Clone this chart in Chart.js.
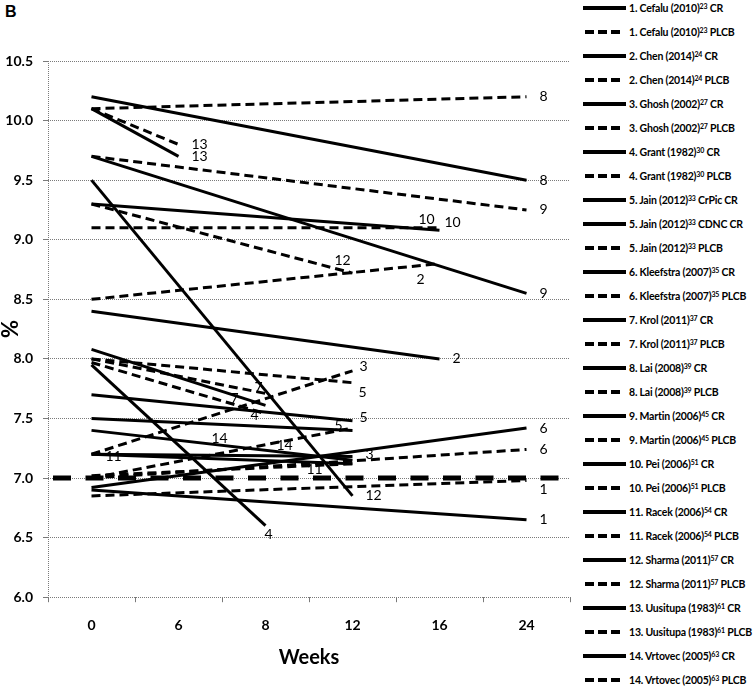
<!DOCTYPE html>
<html>
<head>
<meta charset="utf-8">
<script src="https://cdn.jsdelivr.net/npm/chart.js@4.4.1/dist/chart.umd.min.js"></script>
<style>
  body { margin: 0; background: #fff; width: 755px; height: 686px; overflow: hidden; position: relative; }
  #wrap { position: absolute; left: 0; top: 0; width: 578px; height: 686px; }
  #panel { position: absolute; left: 5px; top: 4px; font: bold 16px/16px 'Liberation Sans', Arial, sans-serif; }
  .row { position: absolute; left: 583px; height: 16px; display: flex; align-items: center; white-space: nowrap;
         font: bold 10.5px Lato, sans-serif; letter-spacing: -0.2px; color: #000; }
  .row svg { margin-right: 3px; flex: none; }
  .row sup { font-size: 7px; line-height: 0; vertical-align: 3px; }
</style>
</head>
<body>
<div id="panel">B</div>
<div id="wrap"><canvas id="myChart"></canvas></div>
<div id="legend"></div>
<script>
// semanas (eje x)
const weeks = ['0', '6', '8', '12', '16', '24'];

// HbA1c (%) por estudio y brazo, null = sin medición en esa semana
const cefaluCR      = [6.90, null, null, null, null, 6.65];
const cefaluPLCB    = [6.85, null, null, null, null, 6.98];
const chenCR        = [8.40, null, null, null, 8.00, null];
const chenPLCB      = [8.50, null, null, null, 8.80, null];
const ghoshCR       = [7.20, null, null, 7.18, null, null];
const ghoshPLCB     = [7.20, null, null, 7.90, null, null];
const grantCR       = [7.95, null, 6.60, null, null, null];
const grantPLCB     = [7.97, null, 7.54, null, null, null];
const jainCrPicCR   = [7.70, null, null, 7.48, null, null];
const jainCdncCR    = [7.50, null, null, 7.40, null, null];
const jainPLCB      = [8.00, null, null, 7.80, null, null];
const kleefstraCR   = [6.92, null, null, null, null, 7.42];
const kleefstraPLCB = [7.00, null, null, null, null, 7.24];
const krolCR        = [8.08, null, 7.61, null, null, null];
const krolPLCB      = [8.00, null, 7.71, null, null, null];
const laiCR         = [10.20, null, null, null, null, 9.50];
const laiPLCB       = [10.10, null, null, null, null, 10.20];
const martinCR      = [9.70, null, null, null, null, 8.55];
const martinPLCB    = [9.70, null, null, null, null, 9.25];
const peiCR         = [9.30, null, null, null, 9.08, null];
const peiPLCB       = [9.10, null, null, null, 9.10, null];
const racekCR       = [7.20, null, null, 7.12, null, null];
const racekPLCB     = [7.02, null, null, 7.12, null, null];
const sharmaCR      = [9.50, null, null, 6.85, null, null];
const sharmaPLCB    = [9.30, null, null, 8.72, null, null];
const uusitupaCR    = [10.10, 9.70, null, null, null, null];
const uusitupaPLCB  = [10.10, 9.80, null, null, null, null];
const vrtovecCR     = [7.40, null, null, 7.15, null, null];
const vrtovecPLCB   = [7.00, null, null, 7.42, null, null];

// línea objetivo 7%
const targetLine = [7.0, 7.0];

// estudio: número, autor, año, referencia, brazo, datos
const series = [
  [1, 'Cefalu', 2010, 23, 'CR', cefaluCR],
  [1, 'Cefalu', 2010, 23, 'PLCB', cefaluPLCB],
  [2, 'Chen', 2014, 24, 'CR', chenCR],
  [2, 'Chen', 2014, 24, 'PLCB', chenPLCB],
  [3, 'Ghosh', 2002, 27, 'CR', ghoshCR],
  [3, 'Ghosh', 2002, 27, 'PLCB', ghoshPLCB],
  [4, 'Grant', 1982, 30, 'CR', grantCR],
  [4, 'Grant', 1982, 30, 'PLCB', grantPLCB],
  [5, 'Jain', 2012, 33, 'CrPic CR', jainCrPicCR],
  [5, 'Jain', 2012, 33, 'CDNC CR', jainCdncCR],
  [5, 'Jain', 2012, 33, 'PLCB', jainPLCB],
  [6, 'Kleefstra', 2007, 35, 'CR', kleefstraCR],
  [6, 'Kleefstra', 2007, 35, 'PLCB', kleefstraPLCB],
  [7, 'Krol', 2011, 37, 'CR', krolCR],
  [7, 'Krol', 2011, 37, 'PLCB', krolPLCB],
  [8, 'Lai', 2008, 39, 'CR', laiCR],
  [8, 'Lai', 2008, 39, 'PLCB', laiPLCB],
  [9, 'Martin', 2006, 45, 'CR', martinCR],
  [9, 'Martin', 2006, 45, 'PLCB', martinPLCB],
  [10, 'Pei', 2006, 51, 'CR', peiCR],
  [10, 'Pei', 2006, 51, 'PLCB', peiPLCB],
  [11, 'Racek', 2006, 54, 'CR', racekCR],
  [11, 'Racek', 2006, 54, 'PLCB', racekPLCB],
  [12, 'Sharma', 2011, 57, 'CR', sharmaCR],
  [12, 'Sharma', 2011, 57, 'PLCB', sharmaPLCB],
  [13, 'Uusitupa', 1983, 61, 'CR', uusitupaCR],
  [13, 'Uusitupa', 1983, 61, 'PLCB', uusitupaPLCB],
  [14, 'Vrtovec', 2005, 63, 'CR', vrtovecCR],
  [14, 'Vrtovec', 2005, 63, 'PLCB', vrtovecPLCB]
];

// desplazamiento de la etiqueta numérica respecto al último punto (px)
const labelNudge = [
  [0, 0], [0, 9], [0, 0], [-36, 16], [0, -2], [-6, -4], [-14, 9], [-28, 2],
  [-6, -3], [-31, -5], [-7, 10], [0, 0], [0, 0], [-48, -7], [-24, -6],
  [0, 0], [0, 0], [0, 0], [0, 0], [-34, -11], [-8, -5], [-260, -7], [-59, 6],
  [0, 0], [-31, -13], [0, 0], [0, 0], [-154, -22], [-89, 17]
];

const datasets = series.map((s, i) => ({
  label: s[0] + '. ' + s[1] + ' (' + s[2] + ') ' + s[4],
  data: s[5],
  studyNo: String(s[0]),
  nudge: labelNudge[i],
  borderColor: '#000',
  borderWidth: 3,
  borderDash: s[4] === 'PLCB' ? [9, 5] : [],
  pointRadius: 0,
  tension: 0,
  spanGaps: true,
  fill: false
}));

datasets.push({
  label: 'objetivo',
  xAxisID: 'xr',
  data: [{ x: -0.5, y: targetLine[0] }, { x: 5.5, y: targetLine[1] }],
  borderColor: '#000',
  borderWidth: 5,
  borderDash: [18, 14.5],
  borderDashOffset: 27.5,
  pointRadius: 0,
  fill: false
});

// números de estudio al final de cada línea
const studyLabels = {
  id: 'studyLabels',
  afterDatasetsDraw(chart) {
    const ctx = chart.ctx;
    ctx.save();
    ctx.font = '14px Lato, sans-serif';
    ctx.fillStyle = '#000';
    ctx.textBaseline = 'middle';
    ctx.textAlign = 'left';
    chart.data.datasets.forEach((ds, i) => {
      if (!ds.studyNo) return;
      const meta = chart.getDatasetMeta(i);
      let last = ds.data.length - 1;
      while (last > 0 && ds.data[last] == null) last--;
      const pt = meta.data[last];
      ctx.fillText(ds.studyNo, pt.x + 13 + ds.nudge[0], pt.y + ds.nudge[1]);
    });
    ctx.restore();
  }
};

const gridGray = '#7a7a7a';
const tickFont = { family: 'Lato', size: 14, weight: 'bold' };

let ctx = document.getElementById('myChart').getContext('2d');
let myChart = new Chart(ctx, {
  type: 'line',
  data: { labels: weeks, datasets: datasets },
  options: {
    responsive: true,
    maintainAspectRatio: false,
    animation: false,
    layout: { padding: { top: 61, right: 8, bottom: 16, left: 0 } },
    plugins: { legend: { display: false }, tooltip: { enabled: false } },
    scales: {
      x: {
        type: 'category',
        offset: true,
        grid: {
          offset: true,
          drawOnChartArea: true,
          color: c => (c.index === 0 ? gridGray : 'rgba(0,0,0,0)'),
          tickColor: gridGray,
          tickLength: 5
        },
        border: { display: false, dash: [1, 1] },
        ticks: { color: '#000', font: tickFont, padding: 15 },
        title: {
          display: true, text: 'Weeks', color: '#000',
          font: { family: 'Lato', size: 20, weight: 'bold' },
          padding: { top: -3, bottom: 0 }
        }
      },
      xr: { type: 'linear', min: -0.5, max: 5.5, display: false },
      y: {
        min: 6,
        max: 10.5,
        ticks: { stepSize: 0.5, callback: v => v.toFixed(1), color: '#000', font: tickFont, padding: 10 },
        grid: { color: gridGray, tickColor: gridGray, tickLength: 5 },
        border: { display: false, dash: [1, 1] },
        title: {
          display: true, text: '%', color: '#000',
          font: { family: 'Lato', size: 22, weight: 'bold', lineHeight: 1 },
          padding: 0
        },
        afterFit: scale => { scale.width = 48; }
      }
    }
  },
  plugins: [studyLabels]
});

// leyenda a la derecha
const legend = document.getElementById('legend');
series.forEach((s, i) => {
  const row = document.createElement('div');
  row.className = 'row';
  row.style.top = (7.5 + 24 * i - 8) + 'px';
  const dashed = s[4] === 'PLCB';
  const line = dashed
    ? '<line x1="2" y1="3" x2="37" y2="3" stroke="#000" stroke-width="4" stroke-dasharray="9 4"/>'
    : '<line x1="0" y1="3" x2="43" y2="3" stroke="#000" stroke-width="4"/>';
  row.innerHTML = '<svg width="43" height="6">' + line + '</svg>' +
    '<span>' + s[0] + '. ' + s[1] + ' (' + s[2] + ')<sup>' + s[3] + '</sup> ' + s[4] + '</span>';
  legend.appendChild(row);
});
</script>
</body>
</html>
